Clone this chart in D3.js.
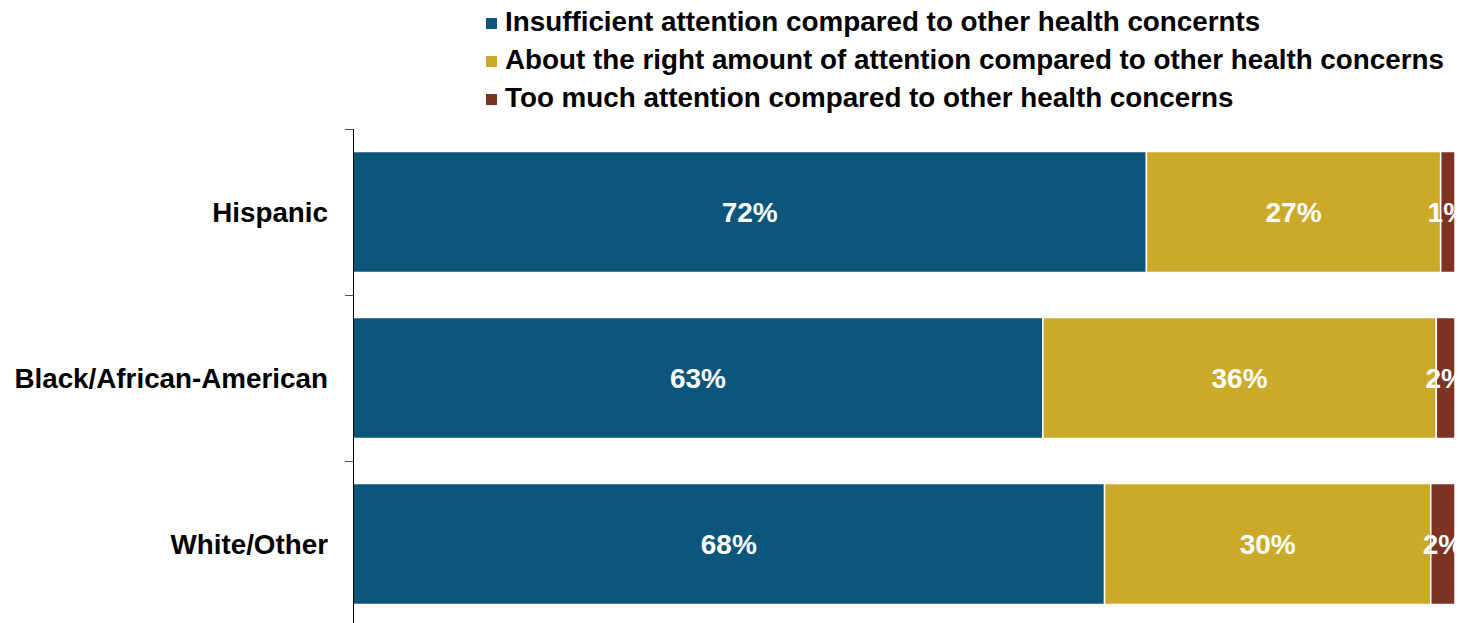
<!DOCTYPE html>
<html>
<head>
<meta charset="utf-8">
<script src="https://cdn.jsdelivr.net/npm/d3@7"></script>
<style>
  body { margin: 0; background: #fff; }
  svg { display: block; font-family: "Liberation Sans", Arial, sans-serif; font-weight: bold; }
</style>
</head>
<body>
<svg width="1461" height="623"></svg>
<script>
// groups shown on the y axis
var groups = ["Hispanic", "Black/African-American", "White/Other"];

// series (legend order)
var series = [
  "Insufficient attention compared to other health concernts",
  "About the right amount of attention compared to other health concerns",
  "Too much attention compared to other health concerns"
];

// percent values per group
var insufficient = [72.0, 62.6, 68.2];
var aboutRight   = [26.7, 35.7, 29.6];
var tooMuch      = [1.3, 1.7, 2.2];

var colors = ["#0c567b", "#ccaa29", "#7e3322"];

var svg = d3.select("svg");
var margin = {top: 129, right: 6, bottom: -4, left: 353};
var width = +svg.attr("width") - margin.left - margin.right;
var height = +svg.attr("height") - margin.top - margin.bottom;

// build table for the stack
var table = groups.map(function(g, i) {
  return { group: g, s0: insufficient[i], s1: aboutRight[i], s2: tooMuch[i] };
});

var stack = d3.stack().keys(["s0", "s1", "s2"]);
var layers = stack(table);

var x = d3.scaleLinear().domain([0, 100]).range([0, width]);
var y = d3.scaleBand()
  .domain(groups)
  .range([0, height])
  .paddingInner(0.271)
  .paddingOuter(0.1355);

var g = svg.append("g")
  .attr("transform", "translate(" + margin.left + "," + margin.top + ")");

// bars
var layer = g.selectAll(".layer")
  .data(layers)
  .enter().append("g")
  .attr("class", "layer")
  .attr("fill", function(d, i) { return colors[i]; });

layer.selectAll("rect")
  .data(function(d) { return d; })
  .enter().append("rect")
  .attr("x", function(d) { return x(d[0]); })
  .attr("y", function(d) { return y(d.data.group); })
  .attr("width", function(d) { return x(d[1]) - x(d[0]); })
  .attr("height", y.bandwidth())
  .attr("stroke", "#fff")
  .attr("stroke-width", 1.5);

// value labels (small ones run past the page edge, as in the original)
layer.selectAll("text")
  .data(function(d) { return d; })
  .enter().append("text")
  .attr("x", function(d) { return (x(d[0]) + x(d[1])) / 2; })
  .attr("y", function(d) { return y(d.data.group) + y.bandwidth() / 2; })
  .attr("dy", "0.36em")
  .attr("text-anchor", "middle")
  .attr("fill", "#fff")
  .style("font-size", "28px")
  .text(function(d) { return Math.round(d[1] - d[0]) + "%"; });

// category axis: line with ticks between categories
g.append("line")
  .attr("x1", 0.5).attr("x2", 0.5)
  .attr("y1", 0).attr("y2", height)
  .attr("stroke", "#000")
  .attr("stroke-width", 1);

var tickPos = groups.map(function(d) {
  return y(d) - y.step() * y.paddingInner() / 2;
});
tickPos.push(height);

g.selectAll(".tick")
  .data(tickPos)
  .enter().append("line")
  .attr("class", "tick")
  .attr("x1", -8).attr("x2", 0.5)
  .attr("y1", function(d) { return Math.round(d) + 0.5; })
  .attr("y2", function(d) { return Math.round(d) + 0.5; })
  .attr("stroke", "#555")
  .attr("stroke-width", 1);

g.selectAll(".cat")
  .data(groups)
  .enter().append("text")
  .attr("class", "cat")
  .attr("x", -25)
  .attr("y", function(d) { return y(d) + y.bandwidth() / 2; })
  .attr("dy", "0.36em")
  .attr("text-anchor", "end")
  .attr("fill", "#000")
  .style("font-size", "27.8px")
  .text(function(d) { return d; });

// legend
var legend = svg.append("g")
  .attr("transform", "translate(486,0)");

var item = legend.selectAll(".item")
  .data(series)
  .enter().append("g")
  .attr("class", "item")
  .attr("transform", function(d, i) { return "translate(0," + (i * 38) + ")"; });

item.append("rect")
  .attr("x", 0).attr("y", 18)
  .attr("width", 11).attr("height", 11)
  .attr("fill", function(d, i) { return colors[i]; });

item.append("text")
  .attr("x", 19)
  .attr("y", 31)
  .attr("fill", "#000")
  .style("font-size", "27.8px")
  .text(function(d) { return d; });
</script>
</body>
</html>
